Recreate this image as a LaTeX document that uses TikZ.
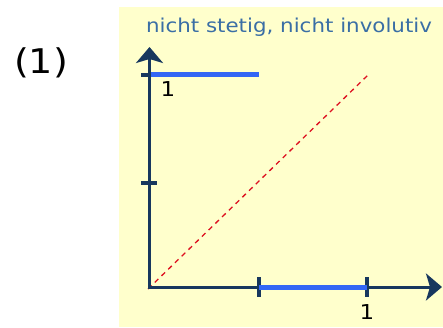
\documentclass[tikz,border=0pt]{standalone}
\usepackage{fontspec}
\setmainfont[FakeStretch=1.12]{DejaVu Sans}
\usetikzlibrary{arrows.meta}
\definecolor{bgyellow}{HTML}{FFFFCC}
\definecolor{axisblue}{HTML}{17375E}
\definecolor{segblue}{HTML}{3366F5}
\definecolor{titleblue}{HTML}{3A6EA5}
\definecolor{diagred}{HTML}{DD1020}
\begin{document}
\begin{tikzpicture}[x=1pt,y=-1pt,
  axis/.style={draw=axisblue,line width=3pt,-{Stealth[length=16pt,width=27pt,inset=4pt]}},
  tickmark/.style={draw=axisblue,line width=4pt},
  seg/.style={draw=segblue,line width=5pt},
  diag/.style={draw=diagred,line width=1.3pt,dash pattern=on 5pt off 4.4pt},
  lbl/.style={font=\fontsize{20.5}{20.5}\selectfont,text=black,inner sep=0pt}]
\useasboundingbox (0,0) rectangle (443,328);
\fill[bgyellow] (119,7) rectangle (443,327);
\node[font=\fontsize{19.1}{19.1}\selectfont,text=titleblue,inner sep=0pt] (title) at (289,27) {nicht stetig, nicht involutiv};
\node[font=\fontsize{34}{34}\selectfont,inner sep=0pt] (num) at (41,63) {(1)};
\coordinate (o) at (149.5,287);
\coordinate (ytip) at (149.5,47);
\coordinate (xtip) at (442,287);
\coordinate (y1) at (149.5,75);
\coordinate (yh) at (149.5,183);
\coordinate (xh) at (259,287);
\coordinate (x1) at (367,287);
\coordinate (d1) at (368,75);
\coordinate (tx) at (259,75);
\draw[diag] (148,289) -- (d1);
\draw[tickmark] (141,75) -- (157,75);
\draw[tickmark] (141,183) -- (157,183);
\draw[tickmark] (259,277) -- (259,297);
\draw[tickmark] (367,277) -- (367,297);
\draw[axis] (o) -- (ytip);
\draw[axis] ([xshift=-1.5pt]o) -- (xtip);
\draw[seg] (151,75) -- (tx);
\draw[seg] (xh) -- (x1);
\node[lbl] (l1) at (168,89) {1};
\node[lbl] (l2) at (367,312) {1};
\end{tikzpicture}
\end{document}
